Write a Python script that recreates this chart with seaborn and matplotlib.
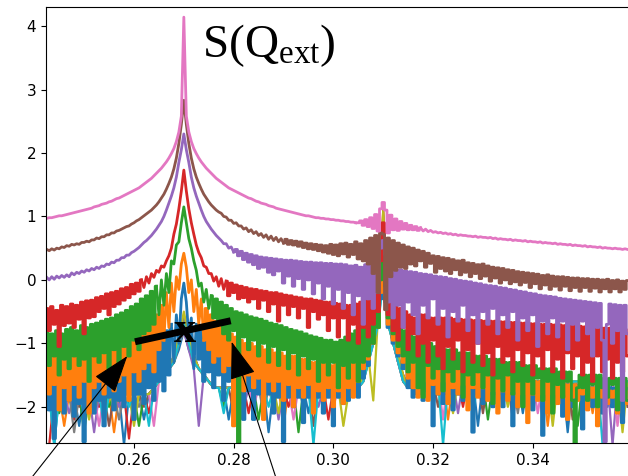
import numpy as np
import matplotlib
matplotlib.use("Agg")
import matplotlib.pyplot as plt
import seaborn as sns
from matplotlib.patches import ArrowStyle

# sampling grids of Q (x axis)
Q_FINE = np.round(0.2425 + 0.0005 * np.arange(234), 4)
Q_COARSE = np.round(0.243 + 0.001 * np.arange(117), 3)

# ---- lower family of curves (coarse sampling) ----
low_blue = [-1.8, -2.6, -1.8, -1.8, -1.8, -1.8, -2.3, -1.8, -1.8, -1.8,
            -1.8, -2.1, -1.8, -1.8, -1.8, -2.6, -1.8, -1.8, -1.8, -2.2,
            -1.8, -1.7, -1.6, -1.5, -1.4, -1.3, -1.1, -0.8, -1.1, -1.3,
            -1.4, -1.5, -1.6, -1.7, -1.7, -1.7, -2.2, -1.7, -1.7, -1.7,
            -1.7, -1.7, -1.7, -1.7, -2.4, -1.7, -1.7, -1.7, -1.7, -1.7,
            -1.7, -1.7, -2.1, -1.7, -1.7, -1.7, -1.7, -1.7, -1.7, -1.8,
            -1.8, -1.8, -1.7, -1.5, -1.2, -0.9, -0.6, 0.2, -0.6, -1.0,
            -1.3, -1.5, -1.7, -1.7, -1.6, -1.6, -1.6, -2.0, -1.6, -1.6,
            -1.6, -1.6, -1.6, -1.6, -1.6, -1.6, -2.3, -1.6, -1.6, -1.6,
            -1.6, -1.6, -1.6, -1.6, -1.6, -2.1, -1.6, -1.6, -1.6, -1.6,
            -1.6, -1.6, -1.6, -1.6, -2.4, -1.6, -1.6, -1.6, -1.6, -1.6,
            -1.6, -1.6, -2.0, -1.6, -1.6, -1.6, -1.6]
low_orange = [-1.8, -1.8, -1.8, -2.3, -1.8, -1.8, -1.8, -1.8, -2.0, -1.8,
              -1.8, -1.8, -1.8, -2.4, -1.8, -1.8, -1.8, -2.1, -1.8, -1.8,
              -1.8, -1.7, -1.6, -1.5, -1.4, -1.3, -1.0, -0.8, -1.0, -1.3,
              -1.4, -1.5, -1.6, -1.7, -1.7, -1.7, -1.7, -1.7, -2.1, -1.7,
              -1.7, -1.7, -1.7, -1.7, -1.7, -1.7, -1.7, -2.3, -1.7, -1.7,
              -1.7, -1.7, -1.7, -1.7, -1.7, -2.0, -1.7, -1.7, -1.7, -1.8,
              -1.8, -1.8, -1.7, -1.5, -1.3, -0.9, -0.5, 0.4, -0.5, -0.9,
              -1.2, -1.5, -1.7, -1.7, -1.6, -1.6, -1.6, -1.6, -1.6, -1.6,
              -2.2, -1.6, -1.6, -1.6, -1.6, -1.6, -1.6, -1.6, -1.6, -1.6,
              -1.6, -2.0, -1.6, -1.6, -1.6, -1.6, -1.6, -1.6, -1.6, -1.6,
              -2.3, -1.6, -1.6, -1.6, -1.6, -1.6, -1.6, -1.6, -1.6, -2.1,
              -1.6, -1.6, -1.6, -1.6, -1.6, -1.6, -1.6]
low_green = [-1.8, -1.8, -2.1, -1.8, -1.8, -1.8, -1.8, -2.4, -1.8, -1.8,
             -1.8, -1.8, -2.0, -1.8, -1.8, -1.8, -1.8, -1.8, -2.3, -1.8,
             -1.8, -1.7, -1.6, -1.5, -1.4, -1.3, -1.0, -0.7, -1.0, -1.2,
             -1.4, -1.5, -1.6, -1.7, -1.7, -2.0, -1.7, -1.7, -1.7, -1.7,
             -1.7, -1.7, -2.2, -1.7, -1.7, -1.7, -1.7, -1.7, -1.7, -1.7,
             -2.4, -1.7, -1.7, -1.7, -1.7, -1.7, -1.7, -1.7, -1.7, -1.8,
             -1.8, -1.8, -1.7, -1.6, -1.2, -1.0, -0.6, 0.3, -0.7, -1.0,
             -1.3, -1.6, -1.7, -1.7, -1.6, -1.6, -1.6, -1.6, -1.6, -1.9,
             -1.6, -1.6, -1.6, -1.6, -1.6, -1.6, -1.6, -1.6, -2.2, -1.6,
             -1.6, -1.6, -1.6, -1.6, -1.6, -1.6, -1.6, -2.0, -1.6, -1.6,
             -1.6, -1.6, -1.6, -1.6, -1.6, -1.6, -2.3, -1.6, -1.6, -1.6,
             -1.6, -1.6, -1.6, -1.6, -1.6, -2.0, -1.6]
low_red = [-2.6, -1.8, -1.8, -1.8, -1.8, -2.2, -1.8, -1.8, -1.8, -1.8,
           -2.0, -1.8, -1.8, -1.8, -1.8, -1.8, -2.5, -1.8, -1.8, -1.8,
           -2.1, -1.7, -1.6, -1.5, -1.4, -1.2, -0.9, -0.6, -0.9, -1.2,
           -1.4, -1.5, -1.6, -1.7, -1.7, -1.7, -1.7, -1.7, -1.7, -1.7,
           -2.1, -1.7, -1.7, -1.7, -1.7, -1.7, -1.7, -1.7, -2.0, -1.7,
           -1.7, -1.7, -1.7, -1.7, -1.7, -1.7, -2.2, -1.7, -1.7, -1.8,
           -1.8, -1.8, -1.7, -1.5, -1.2, -0.9, -0.4, 1.1, -0.5, -0.9,
           -1.3, -1.5, -1.7, -1.7, -1.6, -1.6, -1.6, -1.6, -1.6, -1.6,
           -1.6, -1.6, -1.6, -2.0, -1.6, -1.6, -1.6, -1.6, -1.6, -1.6,
           -1.6, -1.6, -1.6, -2.2, -1.6, -1.6, -1.6, -1.6, -1.6, -1.6,
           -1.6, -1.6, -1.9, -1.6, -1.6, -1.6, -1.6, -1.6, -1.6, -1.6,
           -1.6, -2.1, -1.6, -1.6, -1.6, -1.6, -1.6]
low_purple = [-1.8, -1.8, -1.8, -1.8, -2.1, -1.8, -1.8, -1.8, -1.8, -2.4,
              -1.8, -1.8, -1.8, -1.8, -2.0, -1.8, -1.8, -1.8, -1.8, -1.8,
              -1.8, -1.7, -1.6, -1.5, -1.4, -1.3, -1.0, -0.8, -1.1, -1.4,
              -2.3, -1.5, -1.6, -1.7, -1.7, -1.7, -1.7, -1.7, -1.7, -2.0,
              -1.7, -1.7, -1.7, -1.7, -1.7, -1.7, -2.2, -1.7, -1.7, -1.7,
              -1.7, -1.7, -1.7, -1.7, -2.0, -1.7, -1.7, -1.7, -1.7, -1.8,
              -1.8, -1.8, -1.7, -1.6, -1.3, -1.0, -0.7, 0.1, -0.6, -1.0,
              -1.3, -1.6, -1.7, -1.7, -1.6, -1.6, -1.6, -1.6, -1.6, -1.6,
              -1.6, -1.6, -2.1, -1.6, -1.6, -1.6, -1.6, -1.6, -1.6, -1.6,
              -1.9, -1.6, -1.6, -1.6, -1.6, -1.6, -1.6, -1.6, -1.6, -2.2,
              -1.6, -1.6, -1.6, -1.6, -1.6, -1.6, -1.6, -1.6, -2.0, -1.6,
              -1.6, -1.6, -1.6, -2.6, -1.6, -1.6, -1.6]
low_brown = [-1.8, -2.2, -1.8, -1.8, -1.8, -1.8, -2.0, -1.8, -1.8, -1.8,
             -1.8, -1.8, -2.3, -1.8, -1.8, -1.8, -1.8, -1.8, -1.8, -2.0,
             -1.8, -1.7, -1.6, -1.5, -1.4, -1.3, -1.0, -0.7, -1.0, -1.3,
             -1.4, -1.5, -1.6, -1.7, -1.7, -1.7, -1.7, -2.1, -1.7, -1.7,
             -1.7, -1.7, -1.7, -1.7, -1.7, -2.0, -1.7, -1.7, -1.7, -1.7,
             -1.7, -1.7, -1.7, -2.3, -1.7, -1.7, -1.7, -1.7, -1.7, -1.8,
             -1.8, -1.8, -1.7, -1.5, -1.2, -1.0, -0.6, 0.5, -0.6, -1.0,
             -1.2, -1.6, -1.7, -1.7, -1.6, -1.6, -1.6, -1.6, -2.0, -1.6,
             -1.6, -1.6, -1.6, -1.6, -1.6, -1.6, -1.6, -2.1, -1.6, -1.6,
             -1.6, -1.6, -1.6, -1.6, -1.6, -1.6, -1.9, -1.6, -1.6, -1.6,
             -1.6, -1.6, -1.6, -1.6, -1.6, -2.2, -1.6, -1.6, -1.6, -1.6,
             -1.6, -1.6, -1.6, -1.6, -1.6, -1.6, -2.0]
low_pink = [-1.8, -1.8, -1.8, -2.0, -1.8, -1.8, -1.8, -1.8, -1.8, -1.8,
            -2.3, -1.8, -1.8, -1.8, -1.8, -2.0, -1.8, -1.8, -1.8, -1.8,
            -1.8, -2.3, -1.6, -1.5, -1.4, -1.2, -0.9, -0.6, -0.9, -1.3,
            -1.4, -1.5, -1.6, -1.7, -1.7, -1.7, -1.7, -1.7, -1.7, -1.7,
            -1.7, -2.0, -1.7, -1.7, -1.7, -1.7, -1.7, -1.7, -1.7, -2.2,
            -1.7, -1.7, -1.7, -1.7, -1.7, -1.7, -1.7, -2.0, -1.7, -1.8,
            -1.8, -1.8, -1.7, -1.5, -1.2, -0.9, -0.6, 0.6, -0.6, -1.0,
            -1.3, -1.6, -1.7, -1.7, -1.6, -1.6, -1.6, -1.6, -1.6, -2.2,
            -1.6, -1.6, -1.6, -1.6, -1.6, -1.6, -1.6, -1.6, -1.6, -2.0,
            -1.6, -1.6, -1.6, -1.6, -1.6, -1.6, -1.6, -1.6, -2.1, -1.6,
            -1.6, -1.6, -1.6, -1.6, -1.6, -1.6, -1.6, -2.0, -1.6, -1.6,
            -1.6, -1.6, -1.6, -1.6, -2.3, -1.6, -1.6]
low_gray = [-2.0, -1.8, -1.8, -1.8, -1.8, -2.4, -1.8, -1.8, -1.8, -2.1,
            -1.8, -1.8, -1.8, -1.8, -2.2, -1.8, -1.8, -1.8, -2.0, -1.8,
            -1.8, -1.7, -1.6, -1.5, -1.4, -1.2, -0.9, -0.6, -0.9, -1.2,
            -1.4, -1.5, -1.6, -1.7, -1.7, -1.7, -1.7, -1.7, -1.7, -1.7,
            -1.7, -1.7, -1.7, -2.1, -1.7, -1.7, -1.7, -1.7, -1.7, -1.7,
            -1.7, -2.0, -1.7, -1.7, -1.7, -1.7, -1.7, -1.7, -1.7, -1.8,
            -1.8, -1.8, -1.7, -1.6, -1.3, -1.0, -0.7, 0.2, -0.7, -1.0,
            -1.3, -1.6, -1.7, -1.7, -1.6, -1.6, -1.6, -1.6, -1.6, -1.6,
            -1.6, -1.6, -1.6, -1.6, -2.0, -1.6, -1.6, -1.6, -1.6, -1.6,
            -1.6, -1.6, -1.6, -1.6, -2.1, -1.6, -1.6, -1.6, -1.6, -1.6,
            -1.6, -1.6, -1.6, -2.0, -1.6, -1.6, -1.6, -1.6, -1.6, -1.6,
            -2.2, -1.6, -1.6, -1.6, -1.6, -1.6, -1.6]
low_olive = [-1.8, -1.8, -2.0, -1.8, -1.8, -1.8, -1.8, -1.8, -2.2, -1.8,
             -1.8, -1.8, -1.8, -2.0, -1.8, -1.8, -1.8, -2.3, -1.8, -1.8,
             -1.8, -1.7, -1.6, -1.5, -1.4, -1.2, -0.9, -0.5, -0.9, -1.2,
             -1.4, -1.5, -1.6, -1.7, -1.7, -1.7, -1.7, -1.7, -2.0, -1.7,
             -1.7, -1.7, -1.7, -1.7, -1.7, -1.7, -2.1, -1.7, -1.7, -1.7,
             -1.7, -1.7, -1.7, -1.7, -1.7, -1.7, -1.7, -1.7, -1.7, -2.3,
             -1.8, -1.8, -1.7, -1.5, -1.2, -1.9, -0.5, 1.1, -0.5, -0.9,
             -1.2, -1.5, -1.7, -1.7, -1.6, -1.6, -1.6, -1.6, -1.6, -1.6,
             -1.6, -2.1, -1.6, -1.6, -1.6, -1.6, -1.6, -1.6, -1.6, -1.6,
             -1.6, -1.6, -2.0, -1.6, -1.6, -1.6, -1.6, -1.6, -1.6, -1.6,
             -1.6, -2.3, -1.6, -1.6, -1.6, -1.6, -1.6, -1.6, -1.6, -2.0,
             -1.6, -1.6, -1.6, -1.6, -1.6, -2.4, -1.6]
low_cyan = [-1.8, -2.6, -1.8, -1.8, -1.8, -1.8, -1.8, -2.1, -1.8, -1.8,
            -1.8, -2.3, -1.8, -1.8, -1.8, -1.8, -2.0, -1.8, -1.8, -1.8,
            -2.3, -1.7, -1.6, -1.5, -1.4, -1.3, -1.0, -0.7, -1.0, -1.3,
            -1.4, -1.5, -1.6, -1.7, -1.7, -2.1, -1.7, -1.7, -1.7, -1.7,
            -1.7, -1.7, -1.7, -1.7, -2.0, -1.7, -1.7, -1.7, -1.7, -1.7,
            -1.7, -1.7, -1.7, -2.6, -1.7, -1.7, -1.7, -1.7, -1.7, -1.8,
            -1.8, -1.8, -1.7, -1.6, -1.3, -1.0, -0.7, 0.0, -0.7, -1.0,
            -1.3, -1.6, -1.7, -1.7, -1.6, -1.6, -1.6, -1.6, -1.6, -2.6,
            -1.6, -1.6, -1.6, -1.6, -1.6, -2.1, -1.6, -1.6, -1.6, -1.6,
            -1.6, -1.6, -1.6, -1.6, -1.6, -1.6, -2.2, -1.6, -1.6, -1.6,
            -1.6, -1.6, -1.6, -1.6, -2.0, -1.6, -1.6, -1.6, -1.6, -1.6,
            -1.6, -2.6, -1.6, -1.6, -1.6, -1.6, -1.6]

# ---- upper family of curves (fine sampling) ----
s_blue = [-1.60, -2.05, -1.55, -2.50, -1.60, -1.95, -1.50, -2.10, -1.65, -1.90,
          -1.55, -2.15, -1.50, -1.95, -1.60, -2.55, -1.50, -2.00, -1.55, -2.10,
          -1.45, -1.90, -1.50, -2.30, -1.40, -1.85, -1.45, -2.05, -1.35, -1.90,
          -1.35, -2.00, -1.30, -1.80, -1.25, -2.20, -1.20, -1.80, -1.20, -1.95,
          -1.10, -1.70, -1.05, -1.90, -0.95, -1.60, -0.90, -1.75, -0.80, -1.50,
          -0.70, -1.30, -0.55, -1.00, -0.30, -0.05, -0.35, -0.90, -0.60, -1.40,
          -0.70, -1.25, -0.80, -1.60, -0.85, -1.45, -0.95, -1.70, -1.00, -1.50,
          -1.05, -1.90, -1.10, -1.60, -1.15, -2.05, -1.20, -1.70, -1.25, -2.20,
          -1.30, -1.75, -1.30, -2.20, -1.35, -1.80, -1.40, -1.95, -1.40, -1.80,
          -1.45, -2.10, -1.45, -1.85, -1.50, -2.55, -1.50, -1.85, -1.55, -2.00,
          -1.55, -1.85, -1.60, -2.25, -1.60, -1.85, -1.60, -2.00, -1.65, -1.85,
          -1.65, -2.10, -1.65, -1.85, -1.60, -2.30, -1.60, -1.85, -1.50, -1.95,
          -1.40, -1.90, -1.30, -1.75, -1.20, -1.85, -1.10, -1.55, -1.00, -1.35,
          -0.90, -1.00, -0.70, -0.75, -0.30, 0.20, -0.35, -0.75, -0.60, -1.00,
          -0.80, -1.20, -1.00, -1.40, -1.10, -1.70, -1.20, -1.85, -1.30, -1.80,
          -1.35, -1.90, -1.40, -1.75, -1.40, -2.30, -1.45, -1.80, -1.45, -1.95,
          -1.45, -1.80, -1.50, -2.05, -1.50, -1.80, -1.50, -1.90, -1.50, -1.80,
          -1.50, -2.40, -1.55, -1.80, -1.55, -1.95, -1.55, -1.80, -1.55, -2.00,
          -1.55, -1.80, -1.55, -2.00, -1.60, -1.80, -1.60, -2.30, -1.60, -1.85,
          -1.60, -1.95, -1.60, -1.80, -1.60, -2.05, -1.60, -1.85, -1.60, -2.45,
          -1.60, -1.85, -1.60, -1.95, -1.65, -1.85, -1.65, -2.15, -1.65, -1.85,
          -1.65, -2.00, -1.65, -1.85, -1.65, -2.35, -1.65, -1.85, -1.70, -2.00,
          -1.70, -1.85, -1.70, -2.10, -1.70, -1.90, -1.70, -2.00, -1.70, -1.85,
          -1.70, -2.25, -1.70, -1.90]
s_orange = [-1.15, -1.80, -1.20, -1.65, -1.10, -2.05, -1.15, -1.70, -1.20, -1.90,
            -1.10, -1.65, -1.15, -1.85, -1.10, -1.60, -1.15, -2.10, -1.10, -1.70,
            -1.05, -1.60, -1.10, -1.80, -1.05, -1.55, -1.00, -1.75, -1.00, -1.60,
            -0.95, -1.50, -0.95, -1.90, -0.90, -1.45, -0.85, -1.60, -0.80, -1.40,
            -0.75, -1.30, -0.65, -1.45, -0.55, -1.10, -0.40, -0.95, -0.20, -0.75,
            -0.05, -0.50, 0.05, -0.15, 0.25, 0.42, 0.20, -0.20, 0.00, -0.50,
            -0.15, -0.70, -0.30, -0.95, -0.45, -1.10, -0.55, -1.30, -0.65, -1.20,
            -0.75, -1.45, -0.80, -1.35, -0.85, -2.30, -0.90, -1.45, -0.95, -1.75,
            -1.00, -1.50, -1.00, -1.70, -1.05, -1.55, -1.05, -2.20, -1.10, -1.60,
            -1.10, -1.75, -1.15, -1.60, -1.15, -1.90, -1.20, -1.65, -1.20, -2.00,
            -1.20, -1.70, -1.25, -1.85, -1.25, -1.65, -1.30, -2.10, -1.30, -1.75,
            -1.30, -1.90, -1.30, -1.70, -1.35, -2.00, -1.30, -1.75, -1.25, -1.95,
            -1.20, -1.70, -1.10, -1.85, -1.00, -1.60, -0.95, -1.40, -0.85, -1.25,
            -0.70, -1.00, -0.50, -0.75, -0.20, 0.30, -0.25, -0.70, -0.45, -0.95,
            -0.65, -1.15, -0.80, -1.30, -0.90, -1.55, -1.00, -1.70, -1.05, -1.85,
            -1.10, -1.60, -1.15, -1.90, -1.20, -1.65, -1.25, -1.80, -1.25, -1.60,
            -1.30, -1.95, -1.30, -1.70, -1.35, -1.80, -1.35, -1.65, -1.40, -2.05,
            -1.40, -1.70, -1.40, -1.85, -1.45, -1.70, -1.45, -1.90, -1.45, -1.75,
            -1.50, -2.10, -1.50, -1.75, -1.50, -1.90, -1.50, -1.75, -1.55, -2.00,
            -1.55, -1.80, -1.55, -2.25, -1.55, -1.80, -1.60, -1.90, -1.60, -1.80,
            -1.60, -2.10, -1.60, -1.80, -1.60, -1.95, -1.65, -1.80, -1.65, -2.20,
            -1.65, -1.85, -1.65, -1.90, -1.70, -1.80, -1.70, -2.05, -1.70, -1.85,
            -1.70, -2.30, -1.70, -1.85, -1.70, -1.95, -1.75, -1.85, -1.75, -2.10,
            -1.75, -1.85, -1.75, -1.95]
s_green = [-0.80, -1.35, -0.85, -1.20, -0.80, -1.50, -0.85, -1.25, -0.78, -1.40,
           -0.75, -1.20, -0.80, -1.35, -0.72, -1.25, -0.75, -1.60, -0.70, -1.20,
           -0.68, -1.30, -0.65, -1.15, -0.62, -1.40, -0.60, -1.10, -0.55, -1.30,
           -0.52, -1.05, -0.48, -1.20, -0.42, -0.95, -0.38, -1.10, -0.30, -0.85,
           -0.25, -0.80, -0.18, -0.70, -0.10, -0.55, 0.00, -0.40, 0.10, -0.20,
           0.30, 0.25, 0.55, 0.60, 0.90, 1.15, 0.90, 0.65, 0.50, 0.30,
           0.15, -0.10, -0.05, -0.35, -0.15, -0.45, -0.25, -0.60, -0.30, -0.70,
           -0.35, -0.85, -0.40, -0.95, -0.45, -0.80, -0.50, -2.60, -0.52, -0.90,
           -0.55, -1.10, -0.58, -0.95, -0.60, -1.20, -0.62, -1.00, -0.65, -1.30,
           -0.68, -1.05, -0.70, -1.35, -0.72, -1.10, -0.75, -1.40, -0.78, -1.15,
           -0.80, -1.50, -0.82, -1.20, -0.85, -1.40, -0.88, -1.25, -0.90, -1.60,
           -0.92, -1.30, -0.95, -1.50, -0.95, -1.30, -0.98, -1.70, -0.95, -1.35,
           -0.90, -1.55, -0.85, -1.30, -0.80, -1.60, -0.70, -1.30, -0.60, -1.20,
           -0.50, -1.00, -0.30, -0.75, 0.00, 0.50, -0.10, -0.60, -0.35, -0.85,
           -0.55, -1.05, -0.70, -1.20, -0.80, -1.45, -0.85, -1.30, -0.90, -1.70,
           -0.95, -1.85, -1.00, -1.35, -1.00, -1.55, -1.05, -1.40, -1.05, -1.75,
           -1.10, -1.45, -1.10, -1.60, -1.10, -1.40, -1.15, -1.85, -1.15, -1.50,
           -1.15, -1.65, -1.20, -1.45, -1.20, -1.70, -1.20, -1.50, -1.25, -1.95,
           -1.25, -1.55, -1.25, -1.75, -1.30, -1.50, -1.30, -1.80, -1.30, -1.60,
           -1.30, -2.00, -1.35, -1.60, -1.35, -1.80, -1.35, -1.55, -1.40, -1.90,
           -1.40, -1.60, -1.40, -2.10, -1.40, -1.65, -1.45, -1.85, -1.45, -1.60,
           -1.45, -1.90, -2.60, -1.70, -1.50, -1.70, -1.50, -1.90, -1.50, -1.65,
           -1.50, -2.00, -1.50, -1.70, -1.55, -1.85, -1.55, -1.65, -1.55, -2.05,
           -1.55, -1.70, -1.55, -1.90]
s_red = [-0.45, -0.80, -0.42, -0.70, -0.48, -1.05, -0.40, -0.72, -0.42, -0.68,
         -0.38, -0.75, -0.40, -0.62, -0.35, -0.85, -0.33, -0.60, -0.32, -0.58,
         -0.28, -0.50, -0.26, -0.45, -0.22, -0.55, -0.20, -0.42, -0.18, -0.38,
         -0.14, -0.32, -0.12, -0.28, -0.07, -0.22, -0.05, -0.18, 0.00, -0.12,
         0.05, -0.05, 0.10, 0.04, 0.15, 0.12, 0.22, 0.20, 0.30, 0.38,
         0.50, 0.72, 0.88, 1.12, 1.40, 1.73, 1.40, 1.12, 0.90, 0.72,
         0.55, 0.43, 0.35, 0.22, 0.20, 0.10, 0.10, -0.02, 0.05, -0.10,
         0.02, -0.15, -0.02, -0.25, -0.05, -0.20, -0.08, -0.30, -0.10, -0.28,
         -0.12, -0.35, -0.14, -0.30, -0.15, -0.45, -0.17, -0.32, -0.18, -0.50,
         -0.20, -0.38, -0.20, -0.65, -0.22, -0.40, -0.24, -0.55, -0.25, -0.42,
         -0.27, -0.60, -0.28, -0.45, -0.30, -0.75, -0.30, -0.50, -0.32, -0.62,
         -0.33, -0.55, -0.35, -0.80, -0.35, -0.60, -0.37, -0.90, -0.38, -0.60,
         -0.40, -0.95, -0.40, -0.70, -0.38, -1.00, -0.35, -0.75, -0.30, -0.90,
         -0.25, -0.70, -0.10, -0.50, 0.30, 0.90, 0.20, -0.55, -0.25, -0.80,
         -0.40, -0.95, -0.45, -0.75, -0.50, -1.10, -0.55, -0.85, -0.60, -1.20,
         -0.55, -1.00, -0.55, -1.30, -0.60, -0.95, -0.60, -1.20, -0.60, -1.40,
         -0.60, -1.05, -0.60, -1.25, -0.62, -0.95, -0.62, -1.45, -0.63, -1.10,
         -0.63, -1.30, -0.64, -1.00, -0.64, -1.35, -0.65, -1.15, -0.65, -1.50,
         -0.65, -1.05, -0.66, -1.30, -0.66, -1.20, -0.67, -1.45, -0.67, -1.10,
         -0.68, -1.35, -0.68, -1.15, -0.69, -1.50, -0.69, -1.20, -0.70, -1.40,
         -0.70, -1.10, -0.70, -1.45, -0.71, -1.25, -0.71, -1.55, -0.72, -1.15,
         -0.72, -1.40, -0.73, -1.20, -0.73, -1.50, -0.74, -1.30, -0.74, -1.60,
         -0.75, -1.20, -0.75, -1.45, -0.76, -1.25, -0.76, -1.55, -0.77, -1.30,
         -0.77, -1.45, -0.78, -1.20]
s_purple = [0.04, 0.00, 0.05, 0.01, 0.06, 0.03, 0.07, 0.04, 0.08, 0.05,
            0.11, 0.08, 0.12, 0.10, 0.14, 0.12, 0.16, 0.14, 0.18, 0.16,
            0.20, 0.18, 0.22, 0.21, 0.25, 0.24, 0.28, 0.27, 0.31, 0.31,
            0.35, 0.35, 0.39, 0.39, 0.43, 0.45, 0.48, 0.51, 0.55, 0.59,
            0.62, 0.66, 0.70, 0.75, 0.80, 0.86, 0.92, 1.00, 1.10, 1.21,
            1.32, 1.45, 1.62, 1.85, 2.05, 2.30, 2.05, 1.85, 1.62, 1.45,
            1.32, 1.21, 1.10, 1.00, 0.92, 0.86, 0.80, 0.75, 0.70, 0.66,
            0.62, 0.57, 0.57, 0.50, 0.52, 0.44, 0.48, 0.38, 0.45, 0.32,
            0.42, 0.28, 0.40, 0.24, 0.38, 0.18, 0.36, 0.20, 0.35, 0.12,
            0.34, 0.08, 0.33, 0.14, 0.32, -0.05, 0.31, 0.06, 0.31, -0.10,
            0.30, 0.02, 0.29, -0.15, 0.28, 0.00, 0.28, -0.22, 0.27, -0.05,
            0.27, -0.30, 0.26, -0.10, 0.26, -0.38, 0.25, -0.15, 0.25, -0.45,
            0.24, -0.20, 0.22, -0.55, 0.23, -0.25, 0.20, -0.70, 0.24, -0.30,
            0.26, -0.45, 0.35, -0.20, 0.50, 0.62, 0.40, -0.35, 0.25, -0.60,
            0.18, -0.40, 0.16, -0.75, 0.14, -0.35, 0.13, -0.55, 0.12, -0.85,
            0.10, -0.40, 0.09, -0.60, 0.08, -0.30, 0.06, -0.70, 0.05, -0.45,
            0.04, -0.90, 0.02, -0.50, 0.01, -0.65, -0.01, -0.40, -0.02, -0.80,
            -0.03, -0.55, -0.05, -1.00, -0.06, -0.50, -0.08, -0.70, -0.09, -0.45,
            -0.10, -0.85, -0.12, -0.55, -0.13, -0.75, -0.15, -0.50, -0.16, -0.95,
            -0.18, -0.60, -0.19, -0.80, -0.21, -0.55, -0.22, -1.05, -0.24, -0.65,
            -0.25, -0.85, -0.26, -0.60, -0.27, -0.90, -0.29, -0.65, -0.30, -1.10,
            -0.31, -0.70, -0.32, -0.95, -0.33, -0.65, -0.34, -0.85, -0.35, -1.20,
            -0.36, -0.75, -0.37, -0.95, -2.55, -0.70, -0.38, -1.00, -0.39, -0.80,
            -0.40, -1.90, -0.40, -0.85]
s_brown = [0.48, 0.46, 0.49, 0.47, 0.50, 0.49, 0.52, 0.51, 0.54, 0.53,
           0.56, 0.55, 0.57, 0.56, 0.59, 0.59, 0.61, 0.60, 0.63, 0.63,
           0.66, 0.65, 0.68, 0.68, 0.71, 0.71, 0.74, 0.74, 0.77, 0.78,
           0.80, 0.82, 0.84, 0.85, 0.88, 0.90, 0.93, 0.95, 0.98, 1.01,
           1.04, 1.07, 1.10, 1.14, 1.18, 1.23, 1.29, 1.35, 1.43, 1.52,
           1.62, 1.75, 1.92, 2.15, 2.45, 2.83, 2.45, 2.15, 1.92, 1.75,
           1.62, 1.52, 1.43, 1.35, 1.29, 1.23, 1.18, 1.14, 1.10, 1.07,
           1.05, 1.00, 0.99, 0.94, 0.94, 0.89, 0.90, 0.85, 0.85, 0.80,
           0.82, 0.76, 0.79, 0.73, 0.76, 0.70, 0.73, 0.67, 0.71, 0.64,
           0.69, 0.62, 0.67, 0.60, 0.65, 0.58, 0.64, 0.56, 0.62, 0.55,
           0.61, 0.53, 0.60, 0.51, 0.58, 0.49, 0.57, 0.48, 0.56, 0.46,
           0.55, 0.44, 0.54, 0.42, 0.56, 0.40, 0.55, 0.38, 0.57, 0.41,
           0.58, 0.36, 0.56, 0.40, 0.60, 0.33, 0.57, 0.30, 0.62, 0.25,
           0.66, 0.10, 0.70, -0.20, 0.74, 0.72, -0.47, 0.66, 0.05, 0.62,
           0.15, 0.58, 0.20, 0.55, 0.18, 0.52, 0.25, 0.50, 0.22, 0.47,
           0.30, 0.45, 0.20, 0.42, 0.26, 0.38, 0.12, 0.37, 0.18, 0.35,
           0.14, 0.34, 0.10, 0.32, 0.16, 0.30, 0.08, 0.31, 0.12, 0.27,
           0.05, 0.26, 0.10, 0.24, 0.02, 0.25, 0.06, 0.22, -0.02, 0.20,
           0.03, 0.19, -0.05, 0.18, 0.00, 0.16, -0.06, 0.15, -0.03, 0.13,
           -0.08, 0.12, -0.04, 0.11, -0.12, 0.10, -0.06, 0.09, -0.14, 0.07,
           -0.08, 0.08, -0.15, 0.06, -0.10, 0.05, -0.16, 0.05, -0.10, 0.04,
           -0.17, 0.03, -0.12, 0.03, -0.18, 0.02, -0.12, 0.02, -0.18, 0.01,
           -0.13, 0.01, -0.19, 0.00, -0.14, 0.01, -0.19, -0.01, -0.14, 0.00,
           -0.19, -0.02, -0.15, -0.01]
s_pink = [0.97, 0.98, 0.98, 0.99, 1.00, 1.01, 1.01, 1.02, 1.03, 1.04,
          1.05, 1.06, 1.07, 1.08, 1.09, 1.10, 1.11, 1.12, 1.13, 1.15,
          1.16, 1.17, 1.19, 1.20, 1.21, 1.23, 1.24, 1.26, 1.28, 1.29,
          1.31, 1.33, 1.35, 1.37, 1.39, 1.41, 1.43, 1.45, 1.48, 1.51,
          1.54, 1.57, 1.60, 1.64, 1.68, 1.72, 1.76, 1.81, 1.86, 1.92,
          1.99, 2.07, 2.18, 2.33, 2.58, 4.14, 2.58, 2.33, 2.18, 2.07,
          1.99, 1.92, 1.86, 1.81, 1.76, 1.72, 1.68, 1.64, 1.60, 1.57,
          1.54, 1.51, 1.48, 1.45, 1.43, 1.41, 1.39, 1.37, 1.35, 1.33,
          1.31, 1.29, 1.28, 1.26, 1.24, 1.23, 1.21, 1.20, 1.19, 1.17,
          1.16, 1.15, 1.13, 1.12, 1.11, 1.10, 1.09, 1.08, 1.07, 1.06,
          1.05, 1.04, 1.03, 1.02, 1.01, 1.01, 1.00, 0.99, 0.98, 0.98,
          0.97, 0.97, 0.96, 0.96, 0.95, 0.95, 0.94, 0.94, 0.93, 0.93,
          0.92, 0.92, 0.91, 0.91, 0.90, 0.90, 0.93, 0.86, 0.95, 0.84,
          0.98, 0.81, 1.03, 0.77, 1.12, 1.22, 1.10, 0.74, 1.02, 0.79,
          0.96, 0.78, 0.92, 0.80, 0.89, 0.79, 0.86, 0.79, 0.84, 0.78,
          0.82, 0.77, 0.80, 0.76, 0.78, 0.75, 0.76, 0.74, 0.75, 0.73,
          0.74, 0.72, 0.73, 0.71, 0.72, 0.70, 0.71, 0.70, 0.70, 0.69,
          0.69, 0.68, 0.69, 0.67, 0.68, 0.67, 0.67, 0.66, 0.67, 0.65,
          0.66, 0.64, 0.65, 0.64, 0.64, 0.63, 0.64, 0.62, 0.63, 0.62,
          0.62, 0.61, 0.62, 0.60, 0.61, 0.60, 0.60, 0.59, 0.60, 0.58,
          0.59, 0.58, 0.58, 0.57, 0.58, 0.56, 0.57, 0.56, 0.56, 0.55,
          0.56, 0.54, 0.55, 0.54, 0.54, 0.53, 0.54, 0.52, 0.53, 0.52,
          0.52, 0.51, 0.52, 0.50, 0.51, 0.50, 0.50, 0.49, 0.50, 0.49,
          0.49, 0.48, 0.49, 0.48]

TICKS_X = [0.26, 0.28, 0.30, 0.32, 0.34]
TICKS_Y = [-2, -1, 0, 1, 2, 3, 4]

LOW = [(low_blue, "tab:blue"), (low_orange, "tab:orange"),
       (low_green, "tab:green"), (low_red, "tab:red"),
       (low_purple, "tab:purple"), (low_brown, "tab:brown"),
       (low_pink, "tab:pink"), (low_gray, "tab:gray"),
       (low_olive, "tab:olive"), (low_cyan, "tab:cyan")]
# fine curves with index ranges drawn as plain lines (rest drawn as dense steps)
FINE = [(s_blue, "tab:blue", [(50, 60)]),
        (s_orange, "tab:orange", [(47, 63)]),
        (s_green, "tab:green", [(44, 66)]),
        (s_red, "tab:red", [(38, 72)]),
        (s_purple, "tab:purple", [(0, 75)]),
        (s_brown, "tab:brown", [(0, 95)]),
        (s_pink, "tab:pink", [(0, 124), (150, 233)])]


def pieces(n, lin):
    out, cur = [], 0
    for a, b in lin:
        if a > cur:
            out.append((cur, a, "steps-mid"))
        out.append((a, b, "default"))
        cur = b
    if cur < n - 1:
        out.append((cur, n - 1, "steps-mid"))
    return out


plt.rcParams["mathtext.fontset"] = "custom"
plt.rcParams["mathtext.rm"] = "Liberation Serif"
plt.rcParams["mathtext.it"] = "Liberation Serif:italic"
plt.rcParams["mathtext.bf"] = "Liberation Serif:bold"

fig = plt.figure(figsize=(6.28, 4.76), dpi=100)
ax = fig.add_axes([46 / 628, 33 / 476, 586.5 / 628, 436 / 476])

for yv, col in LOW:
    n = min(len(Q_COARSE), len(yv))
    sns.lineplot(x=Q_COARSE[:n], y=np.asarray(yv[:n]), color=col, lw=1.6,
                 ax=ax, estimator=None, sort=False, legend=False)

for yv, col, lin in FINE:
    n = min(len(Q_FINE), len(yv))
    yarr = np.asarray(yv[:n])
    for a, b, ds in pieces(n, lin):
        sns.lineplot(x=Q_FINE[a:b + 1], y=yarr[a:b + 1], color=col, lw=2.0,
                     ax=ax, estimator=None, sort=False, legend=False,
                     drawstyle=ds, snap=False)

ax.set_xlim(0.24235, 0.36)
ax.set_ylim(-2.57, 4.3)
ax.set_xticks(TICKS_X)
ax.set_yticks(TICKS_Y)
ax.tick_params(labelsize=11)
ax.set_xlabel("")
ax.set_ylabel("")

# annotations
ax.text(0.266, 0.885, r"S(Q$_{\mathrm{ext}}$)", transform=ax.transAxes,
        fontfamily="Liberation Serif", fontsize=34, va="baseline", ha="left",
        zorder=10)
ax.plot([0.2602, 0.2794], [-0.975, -0.644], color="black", lw=5,
        solid_capstyle="butt", zorder=10)
ax.text(0.2702, -0.975, "x", fontfamily="Liberation Serif", fontweight="bold",
        fontsize=32, ha="center", va="baseline", zorder=11)

style = ArrowStyle("-|>", head_length=1.6, head_width=0.55)
for tip, tail in [((0.25866, -1.20), (29, -5)), ((0.2796, -0.975), (277, -5))]:
    ax.annotate("", xy=tip, xycoords="data", xytext=tail,
                textcoords="figure pixels", annotation_clip=False,
                arrowprops=dict(arrowstyle=style, mutation_scale=15,
                                color="black", lw=0.8, shrinkA=0, shrinkB=0),
                zorder=12)

fig.savefig("out.png", dpi=100)
